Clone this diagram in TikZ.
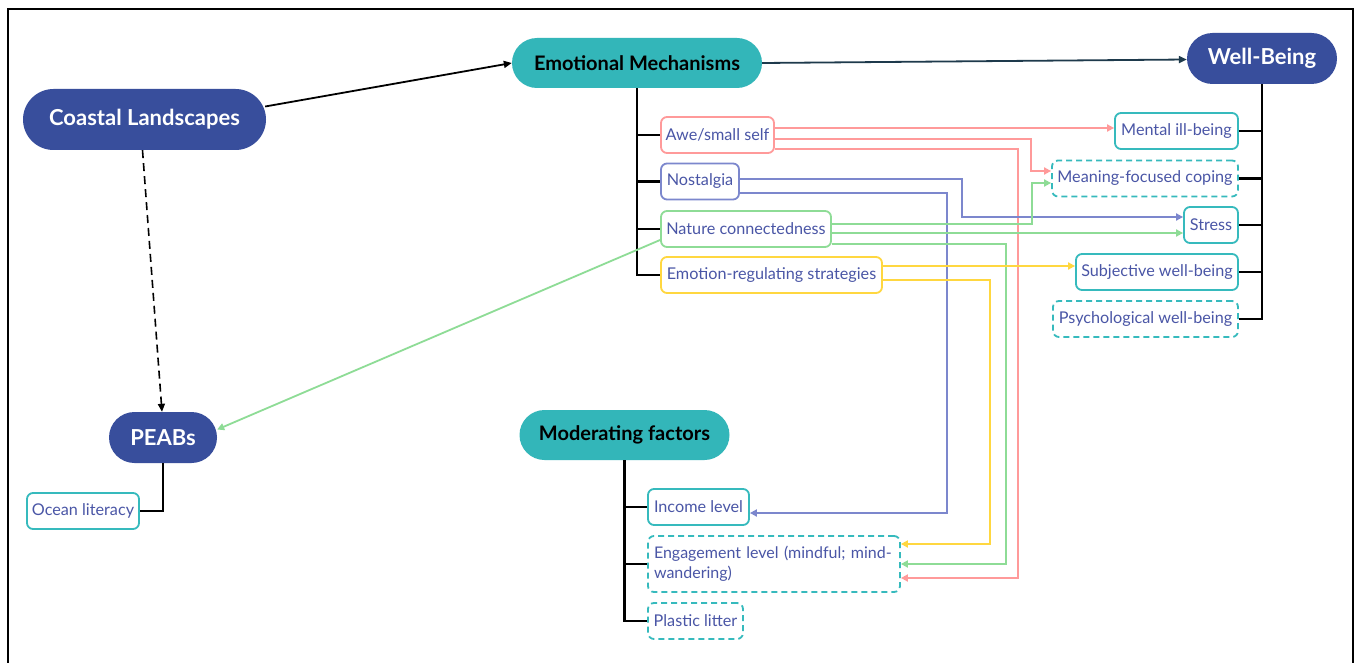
\documentclass[tikz,border=0pt]{standalone}
\usepackage{fontspec}
\setmainfont{Lato}
\usetikzlibrary{arrows.meta,calc,shapes.misc}
\definecolor{dblue}{HTML}{384E9C}
\definecolor{tealf}{HTML}{33B6B9}
\definecolor{tborder}{HTML}{36BABD}
\definecolor{ctext}{HTML}{4A56A6}
\definecolor{pk}{HTML}{FF9A9A}
\definecolor{bl}{HTML}{7C87CD}
\definecolor{gr}{HTML}{8EDC96}
\definecolor{yl}{HTML}{FFD740}
\definecolor{navy}{HTML}{1E3A4C}
\tikzset{
  mainbox/.style={rounded rectangle, inner sep=0pt},
  darkmain/.style={mainbox, fill=dblue, text=white, font=\bfseries\fontsize{22}{26}\selectfont},
  tealmain/.style={mainbox, fill=tealf, text=black, font=\bfseries\fontsize{20}{24}\selectfont},
  leaf/.style={draw=#1, line width=1.8pt, rounded corners=6pt, fill=white, text=ctext,
     minimum height=36pt, inner sep=0pt, font=\fontsize{16.2}{20}\selectfont},
  dleaf/.style={leaf=#1, dash pattern=on 6pt off 4pt},
  tree/.style={line width=2.2pt, black},
  cline/.style={line width=1.8pt, draw=#1, -{Triangle[length=7pt,width=7pt]}},
  barrow/.style={line width=1.8pt, -{Triangle[length=8pt,width=7pt]}},
}
\begin{document}
\begin{tikzpicture}[x=1pt,y=-1pt]
\useasboundingbox (0,0) rectangle (1357,663);
\fill[white] (0,0) rectangle (1357,663);
\draw[line width=2pt] (8,663) -- (8,9) -- (1353,9) -- (1353,663);

% main nodes
\node[darkmain, minimum width=243pt, minimum height=61pt] (coastal) at (144.5,119.5) {Coastal Landscapes};
\node[tealmain, minimum width=250pt, minimum height=50pt] (emo) at (637,63) {Emotional Mechanisms};
\node[darkmain, minimum width=150pt, minimum height=51pt] (wb) at (1262,58.5) {Well-Being};
\node[darkmain, minimum width=108pt, minimum height=51pt] (peabs) at (163,437.5) {PEABs};
\node[tealmain, minimum width=210pt, minimum height=50pt] (mod) at (624.5,435) {Moderating factors};

% leaves
\node[leaf=tborder, minimum width=112pt] (ocean) at (83,511) {Ocean literacy};
\node[leaf=pk, minimum width=113pt] (awe) at (717.5,135) {Awe/small self};
\node[leaf=bl, minimum width=78pt] (nost) at (700,181.5) {Nostalgia};
\node[leaf=gr, minimum width=170pt] (nat) at (746,229) {Nature connectedness};
\node[leaf=yl, minimum width=221pt] (emoreg) at (771.5,275) {Emotion-regulating strategies};
\node[leaf=tborder, minimum width=123pt] (mental) at (1176.5,131) {Mental ill-being};
\node[dleaf=tborder, minimum width=186pt] (meaning) at (1145,178.5) {Meaning-focused coping};
\node[leaf=tborder, minimum width=54pt] (stress) at (1211,225) {Stress};
\node[leaf=tborder, minimum width=162pt] (subj) at (1157,272) {Subjective well-being};
\node[dleaf=tborder, minimum width=185pt] (psych) at (1145.5,319) {Psychological well-being};
\node[leaf=tborder, minimum width=101pt] (income) at (698.5,507) {Income level};
\node[dleaf=tborder, text width=240pt, align=left, inner xsep=6pt, minimum height=56pt, font=\fontsize{16}{20}\selectfont] (engage) at (774,564) {\mbox{Engagement level (mindful; mind-}\\wandering)};
\node[dleaf=tborder, minimum width=95pt] (plastic) at (695.5,621) {Plastic litter};

% trees
\draw[tree] (emo.south) |- (awe.west);
\draw[tree] (emo.south) |- (nost.west);
\draw[tree] (emo.south) |- (nat.west);
\draw[tree] (emo.south) |- (emoreg.west);
\draw[tree] (wb.south) |- (mental.east);
\draw[tree] (wb.south) |- (meaning.east);
\draw[tree] (wb.south) |- (stress.east);
\draw[tree] (wb.south) |- (subj.east);
\draw[tree] (wb.south) |- (psych.east);
\draw[tree] (peabs.south) |- (ocean.east);
\draw[tree] (mod.south) |- (income.west);
\draw[tree] (mod.south) |- (engage.west);
\draw[tree] (mod.south) |- (plastic.west);

% main arrows
\draw[barrow] ($(coastal.east)+(-1,-13)$) -- (emo.west);
\draw[barrow, navy] (emo.east) -- ($(wb.west)+(0,1)$);
\draw[line width=1.6pt, dash pattern=on 8pt off 5pt, -{Triangle[length=8pt,width=7pt]}] ($(coastal.south)+(-2,0)$) -- ($(peabs.north)+(-1,0)$);
\draw[cline=gr] ($(nat.west)+(0,11)$) -- ($(peabs.east)+(0,-8)$);

% coordinates on leaf edges
\coordinate (p1) at ($(awe.east)+(0,-7)$);
\coordinate (p2) at ($(awe.east)+(0,4)$);
\coordinate (p3) at ($(awe.east)+(0,14)$);
\coordinate (b1) at ($(nost.east)+(0,-2.5)$);
\coordinate (b2) at ($(nost.east)+(0,11.5)$);
\coordinate (g1) at ($(nat.east)+(0,-5)$);
\coordinate (g2) at ($(nat.east)+(0,4)$);
\coordinate (g3) at ($(nat.east)+(0,15)$);
\coordinate (y1) at ($(emoreg.east)+(0,-9)$);
\coordinate (y2) at ($(emoreg.east)+(0,5)$);

% pink
\draw[cline=pk] (p1) -- (p1 -| mental.west);
\draw[cline=pk] (p2) -| (1031,171) -- (meaning.west |- 0,171);
\draw[cline=pk] (p3) -| (1018,578) -- (engage.east |- 0,578);
% blue
\draw[cline=bl] (b1) -| (962,217) -- (stress.west |- 0,217);
\draw[cline=bl] (b2) -| (947,513) -- (income.east |- 0,513);
% green
\draw[cline=gr] (g1) -| (1032,183) -- (meaning.west |- 0,183);
\draw[cline=gr] (g2) -- (g2 -| stress.west);
\draw[cline=gr] (g3) -| (1006,564) -- (engage.east |- 0,564);
% yellow
\draw[cline=yl] (y1) -- (y1 -| subj.west);
\draw[cline=yl] (y2) -| (990,544) -- (engage.east |- 0,544);
\end{tikzpicture}
\end{document}
